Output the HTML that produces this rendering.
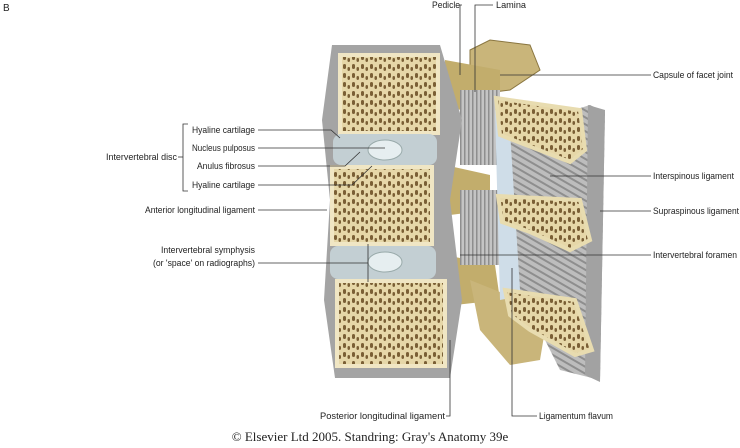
<!DOCTYPE html>
<html><head><meta charset="utf-8"><style>
html,body{margin:0;padding:0;background:#fff;}
svg{display:block;}
text{font-family:"Liberation Sans",sans-serif;font-size:9.5px;fill:#222;}
</style></head><body>
<svg width="740" height="448" viewBox="0 0 740 448" xmlns="http://www.w3.org/2000/svg">
<defs>
<pattern id="tb" width="9" height="9" patternUnits="userSpaceOnUse">
<rect width="9" height="9" fill="#e6d7a8"/>
<rect x="1" y="1" width="3" height="5" rx="1.5" fill="#7a5f35"/>
<rect x="5.5" y="4" width="2.5" height="4" rx="1.2" fill="#7a5f35"/>
</pattern>
<pattern id="lig" width="6" height="6" patternUnits="userSpaceOnUse" patternTransform="rotate(30)">
<rect width="6" height="6" fill="#bdbdbd"/><rect width="6" height="2" fill="#8e8e8e"/>
</pattern>
<pattern id="ligv" width="4" height="4" patternUnits="userSpaceOnUse">
<rect width="4" height="4" fill="#c4c4c4"/><rect width="1.5" height="4" fill="#8e8e8e"/>
</pattern>
</defs>
<text x="3" y="11" style="font-size:10px">B</text>

<path d="M470 50 L490 40 L530 45 L540 70 L510 90 L470 95 Z" fill="#c9b57a" stroke="#8a7640"/>
<path d="M445 60 L500 70 L500 105 L460 110 L445 100Z" fill="#c2ad6c"/>
<path d="M445 165 L490 175 L490 210 L450 215Z" fill="#c2ad6c"/>
<path d="M445 255 L495 265 L500 300 L455 305Z" fill="#c2ad6c"/>
<path d="M470 280 L520 300 L545 330 L540 360 L510 365 L480 330Z" fill="#c9b57a"/>
<rect x="460" y="90" width="40" height="75" fill="url(#ligv)"/>
<rect x="460" y="190" width="40" height="75" fill="url(#ligv)"/>
<path d="M495 110 L525 115 L525 295 L500 300Z" fill="#cfdde8"/>
<path d="M510 130 L590 105 L605 112 L600 380 L560 370 L520 290Z" fill="url(#lig)"/>
<path d="M588 105 L605 110 L600 382 L585 375Z" fill="#a2a2a2"/>
<path d="M496 98 L580 110 L585 150 L570 162 L500 135Z" fill="url(#tb)" stroke="#e8dcb0" stroke-width="4"/>
<path d="M498 196 L580 200 L590 240 L570 250 L530 232 L502 222Z" fill="url(#tb)" stroke="#e8dcb0" stroke-width="4"/>
<path d="M505 290 L575 300 L592 350 L575 355 L530 330 L510 315Z" fill="url(#tb)" stroke="#e8dcb0" stroke-width="4"/>

<path d="M332 45 L440 45 L462 120 L450 200 L462 300 L450 378 L335 378 L324 300 L330 200 L322 120 Z" fill="#a4a4a4"/>
<rect x="340" y="55" width="98" height="78" fill="url(#tb)" stroke="#f0e6c4" stroke-width="4"/>
<rect x="333" y="134" width="104" height="31" rx="8" fill="#c3cfd3"/>
<ellipse cx="385" cy="150" rx="17" ry="10" fill="#e6eef0" stroke="#9aa" />
<rect x="332" y="167" width="100" height="77" fill="url(#tb)" stroke="#f0e6c4" stroke-width="4"/>
<rect x="330" y="246" width="106" height="33" rx="8" fill="#c3cfd3"/>
<ellipse cx="385" cy="262" rx="17" ry="10" fill="#e6eef0" stroke="#9aa"/>
<rect x="337" y="281" width="108" height="85" fill="url(#tb)" stroke="#f0e6c4" stroke-width="4"/>

<g stroke="#333" stroke-width="0.8" fill="none">
<path d="M462 5 H460 V75"/>
<path d="M493 5 H475 V92"/>
<path d="M500 75 H651"/>
<path d="M550 176 H651"/>
<path d="M600 211 H651"/>
<path d="M460 255 H651"/>
<path d="M512 268 V416 H537"/>
<path d="M450 340 V416 H446"/>
<path d="M258 130 H331 L340 138"/>
<path d="M258 148 H385"/>
<path d="M258 166 H345 L360 152"/>
<path d="M258 185 H352 L372 166"/>
<path d="M188 124 H183 V191 H188"/>
<path d="M178 157 H183"/>
<path d="M258 210 H327"/>
<path d="M258 263 H368 M368 244 V282"/>
</g>

<g text-anchor="end">
<text x="460" y="8" textLength="28" lengthAdjust="spacingAndGlyphs">Pedicle</text>
<text x="255" y="133" textLength="63" lengthAdjust="spacingAndGlyphs">Hyaline cartilage</text>
<text x="255" y="151" textLength="63" lengthAdjust="spacingAndGlyphs">Nucleus pulposus</text>
<text x="255" y="169" textLength="58" lengthAdjust="spacingAndGlyphs">Anulus fibrosus</text>
<text x="255" y="188" textLength="63" lengthAdjust="spacingAndGlyphs">Hyaline cartilage</text>
<text x="177" y="160" textLength="71" lengthAdjust="spacingAndGlyphs">Intervertebral disc</text>
<text x="255" y="213" textLength="110" lengthAdjust="spacingAndGlyphs">Anterior longitudinal ligament</text>
<text x="255" y="253" textLength="94" lengthAdjust="spacingAndGlyphs">Intervertebral symphysis</text>
<text x="255" y="266" textLength="102" lengthAdjust="spacingAndGlyphs">(or 'space' on radiographs)</text>
<text x="445" y="419" textLength="125" lengthAdjust="spacingAndGlyphs">Posterior longitudinal ligament</text>
</g>
<text x="496" y="8" textLength="30" lengthAdjust="spacingAndGlyphs">Lamina</text>
<text x="653" y="78" textLength="80" lengthAdjust="spacingAndGlyphs">Capsule of facet joint</text>
<text x="653" y="179" textLength="81" lengthAdjust="spacingAndGlyphs">Interspinous ligament</text>
<text x="653" y="214" textLength="86" lengthAdjust="spacingAndGlyphs">Supraspinous ligament</text>
<text x="653" y="258" textLength="84" lengthAdjust="spacingAndGlyphs">Intervertebral foramen</text>
<text x="539" y="419" textLength="74" lengthAdjust="spacingAndGlyphs">Ligamentum flavum</text>
<text x="370" y="441" text-anchor="middle" style="font-family:'Liberation Serif',serif;font-size:13px">© Elsevier Ltd 2005. Standring: Gray's Anatomy 39e</text>
</svg>
</body></html>
